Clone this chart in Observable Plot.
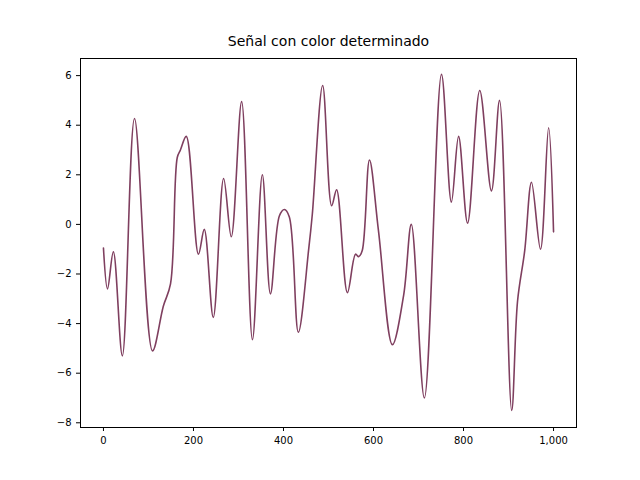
<!DOCTYPE html>
<html><head><meta charset="utf-8">
<script src="https://cdn.jsdelivr.net/npm/d3@7"></script>
<script src="https://cdn.jsdelivr.net/npm/@observablehq/plot@0.6"></script>
<style>body{margin:0;background:#fff}</style>
</head><body><div id="chart"></div>
<script>
const xs = [0,9,22,42,69,109,133,149,164,171,184,211,224,244,267,284,307,331,353,371,391,402,413,433,456,464,487,507,518,542,560,567,575,591,611,642,667,684,713,751,773,789,809,836,862,880,907,920,936,951,971,989,1000]
const ys = [-0.95,-2.6,-1.1,-5.3,4.27,-5.1,-3.3,-2.4,2.7,3.0,3.55,-1.2,-0.2,-3.75,1.85,-0.5,4.95,-4.65,2.0,-2.8,0.35,0.6,0.3,-4.35,-1.0,0.4,5.6,0.75,1.4,-2.75,-1.2,-1.3,-1.05,2.6,-0.25,-4.85,-2.85,0.0,-7.0,6.05,0.9,3.55,0.05,5.4,1.35,5.0,-7.5,-3.1,-1.05,1.7,-1.0,3.9,-0.3]
const titulo = "Señal con color determinado"
const data = xs.map((x, i) => ({x, y: ys[i]}))

let chart = Plot.plot({
  width: 640, height: 480,
  marginLeft: 80, marginRight: 64, marginTop: 58, marginBottom: 53,
  x: {domain: [-51, 1051], ticks: [0,200,400,600,800,1000], label: null, tickSize: 4},
  y: {domain: [-8.19, 6.69], ticks: [-8,-6,-4,-2,0,2,4,6], label: null, tickSize: 4},
  marks: [
    Plot.frame({stroke: "black"}),
    Plot.line(data, {x: "x", y: "y", stroke: "#7f3f5f", strokeWidth: 1.6, curve: "catmull-rom"}),
    Plot.text([titulo], {frameAnchor: "top", dy: -22, fontSize: 14, fill: "black"})
  ],
  style: {fontFamily: "DejaVu Sans", fontSize: "10px", color: "black"}
})
d3.select('#chart').append(() => chart)
</script></body></html>
